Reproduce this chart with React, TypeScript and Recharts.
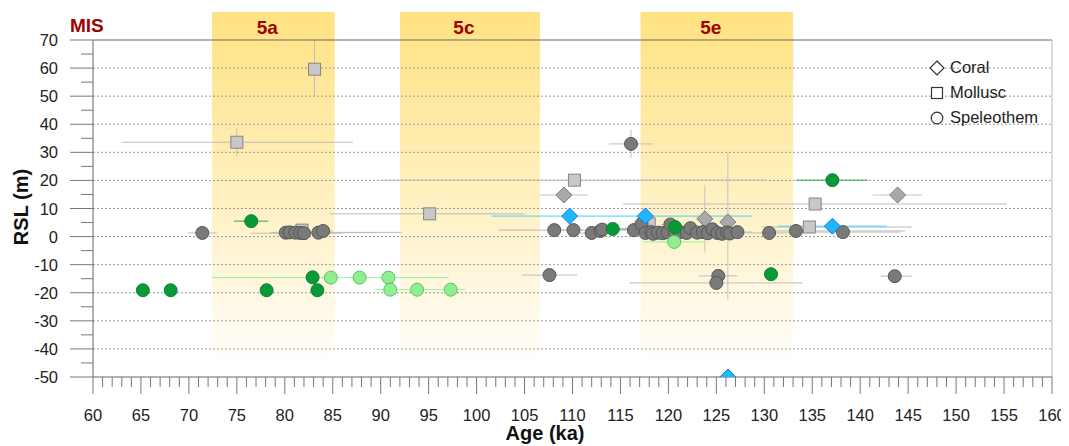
import React from 'react';
import {
  ScatterChart,
  Scatter,
  XAxis,
  YAxis,
  ErrorBar,
  ReferenceArea,
  ReferenceLine,
} from 'recharts';

// rows: [age ka, RSL m, age err low, age err high, RSL err low, RSL err high]
type Row = number[];

const speleoGray: Row[] = [
  [71.4, 1.3, 1.5, 1.5],
  [80.1, 1.4, 1.5, 1.5],
  [80.5, 1.5, 2, 11.7],
  [81.1, 1.4, 1, 1],
  [81.6, 1.3, 0.5, 0.5],
  [82.0, 1.2, 5.5, 4],
  [83.5, 1.4, 3, 6],
  [84.0, 2.0, 1, 1],
  [107.6, -13.7, 2.9, 2.9],
  [108.1, 2.3, 5.8, 3],
  [110.1, 2.3, 2, 2],
  [112.0, 1.3, 2, 2],
  [112.9, 2.0, 1.5, 1.5],
  [113.1, 2.5, 1, 1],
  [116.1, 33.0, 2.3, 2.3, 5, 5],
  [116.4, 2.3, 3, 3],
  [117.2, 4.5, 1, 1],
  [117.6, 1.3, 2, 2],
  [118.2, 1.6, 1, 1],
  [118.4, 1.0, 1.5, 1.5],
  [118.9, 1.4, 1, 1],
  [119.4, 1.2, 2, 2],
  [119.9, 1.5, 1, 1],
  [120.2, 4.3, 1, 1],
  [120.7, 1.2, 1, 1],
  [121.2, 1.6, 1.5, 1.5],
  [121.9, 1.3, 1, 1],
  [122.3, 3.0, 1, 1],
  [123.0, 1.4, 2, 2],
  [123.6, 1.6, 1, 1],
  [124.1, 1.2, 1, 1],
  [124.6, 2.6, 1.5, 1.5],
  [125.1, 1.3, 1, 1],
  [125.6, 1.0, 1, 1],
  [126.1, 1.5, 1, 1],
  [126.4, 1.1, 1, 1],
  [127.2, 1.6, 1.5, 1.5],
  [125.2, -14.0, 2, 2],
  [125.0, -16.5, 9.1, 9.0],
  [130.5, 1.3, 3, 3],
  [133.3, 2.0, 3, 11.4],
  [138.2, 1.6, 4, 6],
  [143.6, -14.1, 1.5, 1.8],
];

const speleoGreen: Row[] = [
  [65.2, -19.1],
  [68.1, -19.1],
  [76.5, 5.5, 1.8, 1.8],
  [78.1, -19.1],
  [82.9, -14.5],
  [83.4, -19.1],
  [114.2, 2.7, 1.5, 1.5],
  [120.7, 3.4, 1.9, 1.9],
  [130.7, -13.4],
  [137.1, 20.1, 3.8, 3.7],
];

const speleoLight: Row[] = [
  [84.8, -14.6, 12.4, 12.3],
  [87.8, -14.6],
  [90.8, -14.6],
  [91.0, -18.9],
  [93.8, -18.9, 4.4, 5],
  [97.3, -18.9],
  [120.6, -1.9, 3.2, 3.2],
];

const coralGray: Row[] = [
  [109.1, 14.8, 2.5, 2.5],
  [123.8, 6.3, 0, 0, 12, 12],
  [126.2, 5.2, 0, 0, 27.8, 24.5],
  [143.9, 14.8, 2.6, 2.6],
];

const coralCyan: Row[] = [
  [109.7, 7.3, 8.1, 19.0],
  [117.6, 7.3],
  [137.1, 3.7, 5.7, 5.7],
  [126.2, -50],
];

const mollusc: Row[] = [
  [75.0, 33.6, 12, 12.1, 5, 5],
  [83.1, 59.6, 0, 0, 10, 10],
  [81.8, 2.3],
  [95.1, 8.1, 10.4, 9.9],
  [110.2, 20.1, 20.1, 20.1],
  [118.0, 4.5],
  [135.3, 11.6, 20, 20],
  [134.7, 3.4, 5, 10.7],
];

const misStages = [
  { name: '5a', from: 72.4, to: 85.2 },
  { name: '5c', from: 92.0, to: 106.6 },
  { name: '5e', from: 117.1, to: 133.0 },
];

const legendItems = ['Coral', 'Mollusc', 'Speleothem'];

const gridValues = [-40, -30, -20, -10, 0, 10, 20, 30, 40, 50, 60];
const xTicks = Array.from({ length: 101 }, (_, i) => 60 + i);
const yTicks = Array.from({ length: 25 }, (_, i) => -50 + i * 5);

const toPoints = (rows: Row[]) =>
  rows.map(([age, rsl, exl = 0, exh = 0, eyl = 0, eyh = 0]) => ({
    age,
    rsl,
    ex: [exl, exh],
    ey: [eyl, eyh],
  }));

const FONT = '"Liberation Sans", Arial, sans-serif';
const DARK_RED = '#a00000';

const circle = (fill: string, stroke: string) => (p: any) => (
  <circle cx={p.cx} cy={p.cy} r={6.5} fill={fill} stroke={stroke} strokeWidth={1} />
);
const square = (fill: string, stroke: string) => (p: any) => (
  <rect x={p.cx - 6} y={p.cy - 6} width={12} height={12} fill={fill} stroke={stroke} strokeWidth={1} />
);
const diamond = (fill: string, stroke: string) => (p: any) => (
  <path
    d={`M${p.cx},${p.cy - 8}L${p.cx + 8},${p.cy}L${p.cx},${p.cy + 8}L${p.cx - 8},${p.cy}Z`}
    fill={fill}
    stroke={stroke}
    strokeWidth={1}
  />
);

const YTick = (props: any) => {
  const { x, y, payload } = props;
  const major = payload.value % 10 === 0;
  return (
    <g>
      <line x1={x - (major ? 23 : 12)} x2={x} y1={y} y2={y} stroke="#777" />
      {major && (
        <text x={x - 35} y={y + 6} textAnchor="end" fontSize={16.5} fontFamily={FONT} fill="#222">
          {payload.value}
        </text>
      )}
    </g>
  );
};

const XTick = (props: any) => {
  const { x, y, payload } = props;
  const major = payload.value % 5 === 0;
  return (
    <g>
      <line x1={x} x2={x} y1={y} y2={y + (major ? 17 : 10)} stroke="#777" />
      {major && (
        <text x={x} y={y + 44} textAnchor="middle" fontSize={16.5} fontFamily={FONT} fill="#222">
          {payload.value}
        </text>
      )}
    </g>
  );
};

const errX = (color: string) => (
  <ErrorBar dataKey="ex" direction="x" width={0} stroke={color} strokeWidth={1} />
);
const errY = (color: string) => (
  <ErrorBar dataKey="ey" direction="y" width={0} stroke={color} strokeWidth={1} />
);

const LegendBox = () => (
  <div style={{ position: 'absolute', left: 926, top: 55, fontFamily: FONT, fontSize: 16.5, color: '#222' }}>
    {legendItems.map((name, i) => (
      <div key={name} style={{ display: 'flex', alignItems: 'center', height: 25 }}>
        <svg width={22} height={22} style={{ marginRight: 2 }}>
          {i === 0 && <path d="M11,4L18,11L11,18L4,11Z" fill="#fff" stroke="#333" strokeWidth={1.2} />}
          {i === 1 && <rect x={5.5} y={5.5} width={11} height={11} fill="#fff" stroke="#333" strokeWidth={1.2} />}
          {i === 2 && <circle cx={11} cy={11} r={5.8} fill="#fff" stroke="#333" strokeWidth={1.2} />}
        </svg>
        <span>{name}</span>
      </div>
    ))}
  </div>
);

export default function App() {
  return (
    <div style={{ position: 'relative', width: 1069, height: 446, margin: '-8px 0 0 -8px', background: '#fff' }}>
      <ScatterChart width={1069} height={446} margin={{ top: 40, right: 17, bottom: 0, left: 0 }}>
        <defs>
          <linearGradient id="misBand" x1="0" y1="0" x2="0" y2="1">
            <stop offset="0%" stopColor="#ffe07a" stopOpacity={0.95} />
            <stop offset="100%" stopColor="#ffe07a" stopOpacity={0.06} />
          </linearGradient>
        </defs>
        <XAxis
          type="number"
          dataKey="age"
          domain={[60, 160]}
          allowDataOverflow
          ticks={xTicks}
          interval={0}
          tick={<XTick />}
          tickLine={false}
          tickSize={0}
          tickMargin={0}
          height={69}
          axisLine={{ stroke: '#666' }}
          label={{
            content: () => (
              <text x={545} y={440} textAnchor="middle" fontSize={20} fontWeight="bold" fontFamily={FONT} fill="#111">
                Age (ka)
              </text>
            ),
          }}
        />
        <YAxis
          type="number"
          dataKey="rsl"
          domain={[-50, 70]}
          allowDataOverflow
          ticks={yTicks}
          interval={0}
          tick={<YTick />}
          tickLine={false}
          tickSize={0}
          tickMargin={0}
          width={93}
          axisLine={{ stroke: '#666' }}
          label={{
            content: () => (
              <text
                x={0}
                y={0}
                transform="translate(28 207) rotate(-90)"
                textAnchor="middle"
                fontSize={20}
                fontWeight="bold"
                fontFamily={FONT}
                fill="#111"
              >
                RSL (m)
              </text>
            ),
          }}
        />
        {misStages.map((s) => (
          <ReferenceArea
            key={s.name}
            x1={s.from}
            x2={s.to}
            y1={-42}
            y2={80}
            ifOverflow="visible"
            fill="url(#misBand)"
            fillOpacity={1}
            stroke="none"
            label={{
              content: (p: any) => (
                <text
                  x={p.viewBox.x + p.viewBox.width / 2 - 6}
                  y={34}
                  textAnchor="middle"
                  fontSize={19}
                  fontWeight="bold"
                  fontFamily={FONT}
                  fill={DARK_RED}
                >
                  {s.name}
                </text>
              ),
            }}
          />
        ))}
        {gridValues.map((v) => (
          <ReferenceLine key={v} y={v} stroke="#999" strokeDasharray="2 2" />
        ))}
        <ReferenceLine y={70} stroke="#666" />
        <ReferenceLine x={160} stroke="#bbb" />
        <Scatter data={toPoints(mollusc)} shape={square('#c8c8c8', '#858585')} isAnimationActive={false}>
          {errX('#bdbdbd')}
          {errY('#bdbdbd')}
        </Scatter>
        <Scatter data={toPoints(coralGray)} shape={diamond('#a9a9a9', '#7a7a7a')} isAnimationActive={false}>
          {errX('#c4c4c4')}
          {errY('#c4c4c4')}
        </Scatter>
        <Scatter data={toPoints(speleoGray)} shape={circle('#7a7a7a', '#555')} isAnimationActive={false}>
          {errX('#bdbdbd')}
          {errY('#bdbdbd')}
        </Scatter>
        <Scatter data={toPoints(speleoLight)} shape={circle('#90ee90', '#5cc45c')} isAnimationActive={false}>
          {errX('#9cf09c')}
        </Scatter>
        <Scatter data={toPoints(speleoGreen)} shape={circle('#079a37', '#08842f')} isAnimationActive={false}>
          {errX('#2aa84a')}
        </Scatter>
        <Scatter data={toPoints(coralCyan)} shape={diamond('#1ab8fc', '#2a6fe6')} isAnimationActive={false}>
          {errX('#3fd2ff')}
        </Scatter>
      </ScatterChart>
      <div
        style={{
          position: 'absolute',
          left: 70,
          top: 15,
          fontFamily: FONT,
          fontSize: 19,
          fontWeight: 'bold',
          color: DARK_RED,
        }}
      >
        MIS
      </div>
      <LegendBox />
    </div>
  );
}
